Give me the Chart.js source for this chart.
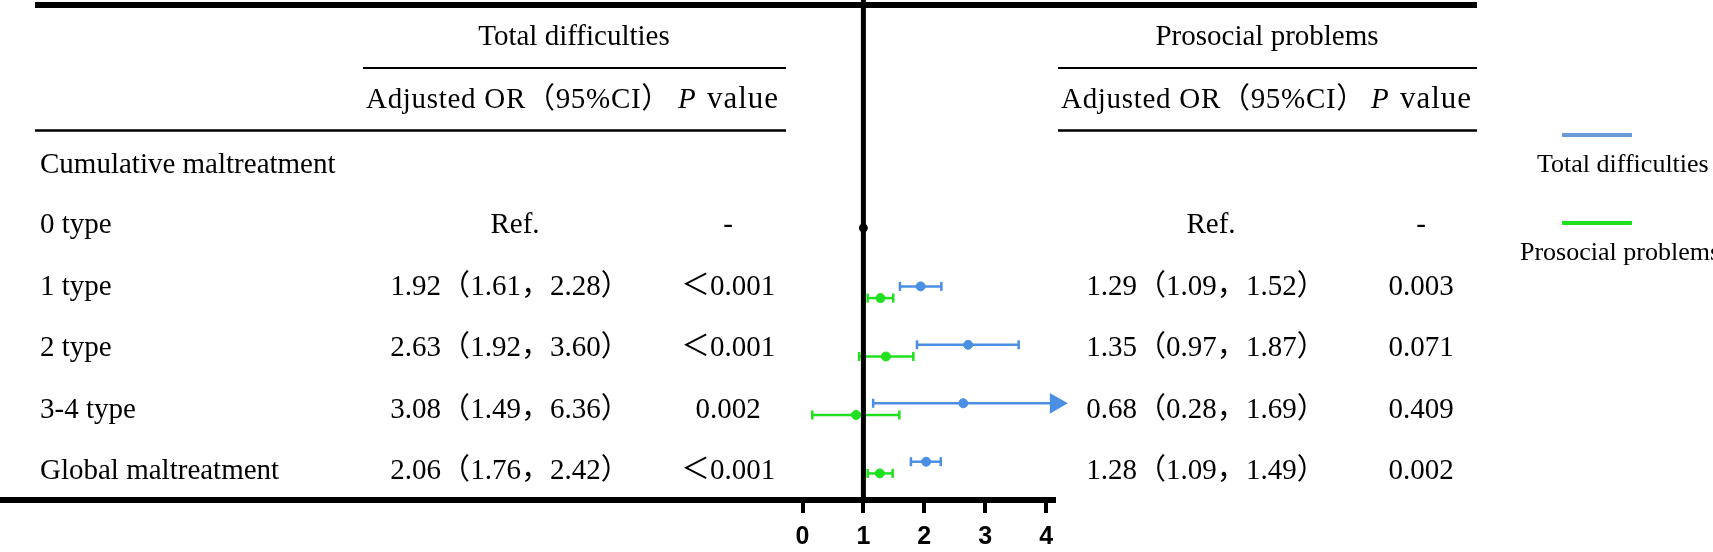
<!DOCTYPE html>
<html>
<head>
<meta charset="utf-8">
<script src="https://cdn.jsdelivr.net/npm/chart.js@4/dist/chart.umd.min.js"></script>
<style>
  html, body { margin: 0; padding: 0; background: #fff; }
  #wrap { width: 1713px; height: 552px; position: relative; }
</style>
</head>
<body>
<div id="wrap"><canvas id="forest"></canvas></div>
<script>
// rows of the table / plot
const rowLabels = ["0 type", "1 type", "2 type", "3-4 type", "Global maltreatment"];
const xTicks = [0, 1, 2, 3, 4];

// total difficulties (blue)
const tdEst = [null, 1.94, 2.72, 2.64, 2.03];
const tdLow = [null, 1.60, 1.88, 1.16, 1.78];
const tdHigh = [null, 2.28, 3.55, 4.16, 2.27];
const tdArrow = [false, false, false, true, false];

// prosocial problems (green)
const ppEst = [null, 1.28, 1.37, 0.88, 1.27];
const ppLow = [null, 1.07, 0.93, 0.16, 1.07];
const ppHigh = [null, 1.49, 1.82, 1.59, 1.48];

// table texts
const tdOR = ["Ref.", "1.92（1.61，2.28）", "2.63（1.92，3.60）", "3.08（1.49，6.36）", "2.06（1.76，2.42）"];
const tdP = ["-", "＜0.001", "＜0.001", "0.002", "＜0.001"];
const ppOR = ["Ref.", "1.29（1.09，1.52）", "1.35（0.97，1.87）", "0.68（0.28，1.69）", "1.28（1.09，1.49）"];
const ppP = ["-", "0.003", "0.071", "0.409", "0.002"];

const blue = "#4a8fe3";
const green = "#20e020";
const ppShift = 0.2; // green bars sit a little below the blue ones

const SERIF = '"Liberation Serif", "Times New Roman", "Noto Sans CJK SC", serif';

const datasets = [];

// line of no effect
datasets.push({
  label: "ref line",
  data: [{ x: 1, y: -3.9 }, { x: 1, y: 4.655 }],
  showLine: true,
  borderColor: "#000",
  borderWidth: 5,
  pointRadius: 0,
});

// reference category point
datasets.push({
  label: "ref",
  data: [{ x: 1, y: 0 }],
  backgroundColor: "#000",
  borderColor: "#000",
  pointRadius: 4,
});

function addCI(est, low, high, color, shift, arrows) {
  for (let i = 0; i < est.length; i++) {
    if (est[i] === null) continue;
    const y = i + shift;
    const isArrow = arrows && arrows[i];
    datasets.push({
      label: "ci",
      data: [{ x: low[i], y: y }, { x: high[i], y: y }],
      showLine: true,
      borderColor: color,
      backgroundColor: color,
      borderWidth: 2.5,
      pointStyle: isArrow ? ["line", "triangle"] : "line",
      rotation: 90,
      pointRadius: isArrow ? [4.5, 12] : 4.5,
      pointBorderWidth: isArrow ? [2.5, 0] : 2.5,
      clip: false,
    });
  }
  datasets.push({
    label: "est",
    data: est.map((v, i) => (v === null ? null : { x: v, y: i + shift })).filter(Boolean),
    backgroundColor: color,
    borderColor: color,
    pointRadius: 4.5,
  });
}

addCI(tdEst, tdLow, tdHigh, blue, 0, tdArrow);
addCI(ppEst, ppLow, ppHigh, green, ppShift, null);

// table + legend drawn on the canvas
const tablePlugin = {
  id: "tableText",
  afterDraw(chart) {
    const ctx = chart.ctx;
    ctx.save();
    ctx.fillStyle = "#000";
    ctx.strokeStyle = "#000";

    function rule(x1, x2, y, w) {
      ctx.lineWidth = w;
      ctx.beginPath();
      ctx.moveTo(x1, y);
      ctx.lineTo(x2, y);
      ctx.stroke();
    }
    rule(35, 1477, 5, 6);
    rule(363, 786, 68, 2);
    rule(1058, 1477, 68, 2);
    rule(35, 786, 130.5, 2.5);
    rule(1058, 1477, 130.5, 2.5);

    ctx.textBaseline = "middle";
    ctx.font = "29px " + SERIF;

    function text(s, x, y, align) {
      ctx.textAlign = align || "center";
      ctx.fillText(s, x, y);
    }
    function pValue(x, y) {
      ctx.textAlign = "left";
      ctx.font = "italic 29px " + SERIF;
      ctx.fillText("P", x, y);
      const w = ctx.measureText("P ").width;
      ctx.font = "31px " + SERIF;
      ctx.letterSpacing = "1px";
      ctx.fillText("value", x + w + 4, y);
      ctx.letterSpacing = "0px";
      ctx.font = "29px " + SERIF;
    }

    text("Total difficulties", 574, 37);
    text("Prosocial problems", 1267, 37);
    ctx.letterSpacing = "0.7px";
    text("Adjusted OR（95%CI）", 366, 100, "left");
    text("Adjusted OR（95%CI）", 1061, 100, "left");
    ctx.letterSpacing = "0px";
    pValue(678, 100);
    pValue(1371, 100);

    text("Cumulative maltreatment", 40, 165, "left");
    const rowY = [225, 287, 348, 410, 471];
    for (let i = 0; i < rowLabels.length; i++) {
      const shift = i === 0 ? 5 : 0;
      text(rowLabels[i], 40, rowY[i], "left");
      text(tdOR[i], 510 + shift, rowY[i]);
      text(tdP[i], 728, rowY[i]);
      text(ppOR[i], 1206 + shift, rowY[i]);
      text(ppP[i], 1421, rowY[i]);
    }

    // legend
    ctx.lineWidth = 4;
    ctx.strokeStyle = "#6a9bd2";
    ctx.beginPath(); ctx.moveTo(1562, 135); ctx.lineTo(1632, 135); ctx.stroke();
    ctx.strokeStyle = green;
    ctx.beginPath(); ctx.moveTo(1562, 223); ctx.lineTo(1632, 223); ctx.stroke();
    ctx.font = "26px " + SERIF;
    text("Total difficulties", 1537, 165, "left");
    text("Prosocial problems", 1520, 253, "left");
    ctx.restore();
  },
};

new Chart(document.getElementById("forest"), {
  type: "scatter",
  data: { datasets: datasets },
  options: {
    responsive: true,
    maintainAspectRatio: false,
    animation: false,
    layout: { autoPadding: false, padding: { left: 3, right: 659, top: 0, bottom: -9 } },
    plugins: { legend: { display: false }, tooltip: { enabled: false } },
    scales: {
      x: {
        type: "linear",
        min: -13.13,
        max: 4.13,
        afterBuildTicks: (axis) => {
          axis.ticks = xTicks.map((v) => ({ value: v }));
        },
        grid: { drawOnChartArea: false, drawTicks: true, tickLength: 13, color: "#000", lineWidth: 4 },
        border: { display: true, color: "#000", width: 6 },
        ticks: {
          color: "#000",
          padding: 9,
          font: { family: '"Liberation Sans", Arial, sans-serif', size: 25, weight: "bold" },
        },
      },
      y: {
        type: "linear",
        reverse: true,
        min: -3.9,
        max: 4.655,
        display: false,
      },
    },
  },
  plugins: [tablePlugin],
});
</script>
</body>
</html>
